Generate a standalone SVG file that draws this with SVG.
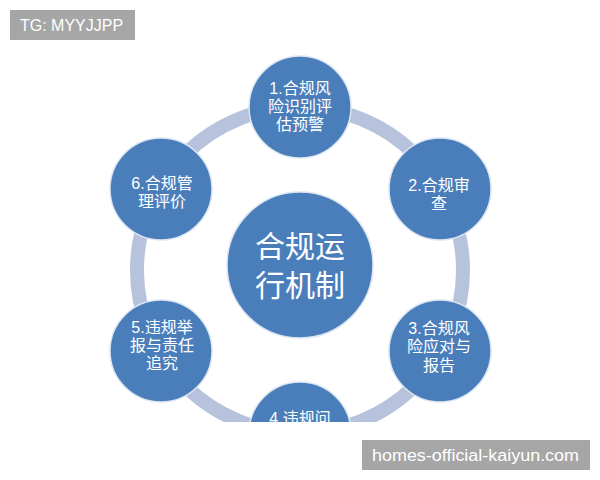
<svg xmlns="http://www.w3.org/2000/svg" width="600" height="480" viewBox="0 0 600 480">
<style>
.node{fill:#4a7ebb;stroke:#dce6f2;stroke-width:1.5}
.t{fill:#ffffff;font-family:"Liberation Sans","Noto Sans CJK SC",sans-serif;font-size:16px;text-anchor:middle}
.big{font-size:30px}
.wm{fill:#a6a6a6}
.wt{fill:#ffffff;font-family:"Liberation Sans","Noto Sans CJK SC",sans-serif;font-size:16px}
</style>
<rect width="600" height="480" fill="#ffffff"/>
<g id="connectors">
<circle cx="300" cy="270" r="163" fill="none" stroke="#b7c3dd" stroke-width="14"/>
</g>
<g id="center">
<circle class="node" cx="300" cy="265" r="73"/>
<text class="t big" x="300" y="257">合规运</text>
<text class="t big" x="300" y="296">行机制</text>
</g>
<g id="node1">
<circle class="node" cx="300" cy="107" r="51"/>
<text class="t" x="300" y="94">1.合规风</text>
<text class="t" x="300" y="112">险识别评</text>
<text class="t" x="300" y="130">估预警</text>
</g>
<g id="node2">
<circle class="node" cx="440" cy="189" r="51"/>
<text class="t" x="439" y="191">2.合规审</text>
<text class="t" x="439" y="209">查</text>
</g>
<g id="node3">
<circle class="node" cx="440" cy="351" r="51"/>
<text class="t" x="439" y="334">3.合规风</text>
<text class="t" x="439" y="352">险应对与</text>
<text class="t" x="439" y="371">报告</text>
</g>
<g id="node4">
<circle class="node" cx="300" cy="433" r="51"/>
<text class="t" x="300" y="424">4.违规问</text>
</g>
<g id="node5">
<circle class="node" cx="161" cy="351" r="51"/>
<text class="t" x="162" y="333">5.违规举</text>
<text class="t" x="162" y="351">报与责任</text>
<text class="t" x="162" y="369">追究</text>
</g>
<g id="node6">
<circle class="node" cx="161" cy="189" r="51"/>
<text class="t" x="162" y="189">6.合规管</text>
<text class="t" x="162" y="207">理评价</text>
</g>
<rect x="0" y="422" width="600" height="58" fill="#ffffff"/>
<g id="watermarks">
<rect class="wm" x="10" y="10" width="125" height="30"/>
<text class="wt" x="20" y="31">TG: MYYJJPP</text>
<rect class="wm" x="362" y="440" width="228" height="30"/>
<text class="wt" x="372" y="461" textLength="207" lengthAdjust="spacingAndGlyphs">homes-official-kaiyun.com</text>
</g>
</svg>
